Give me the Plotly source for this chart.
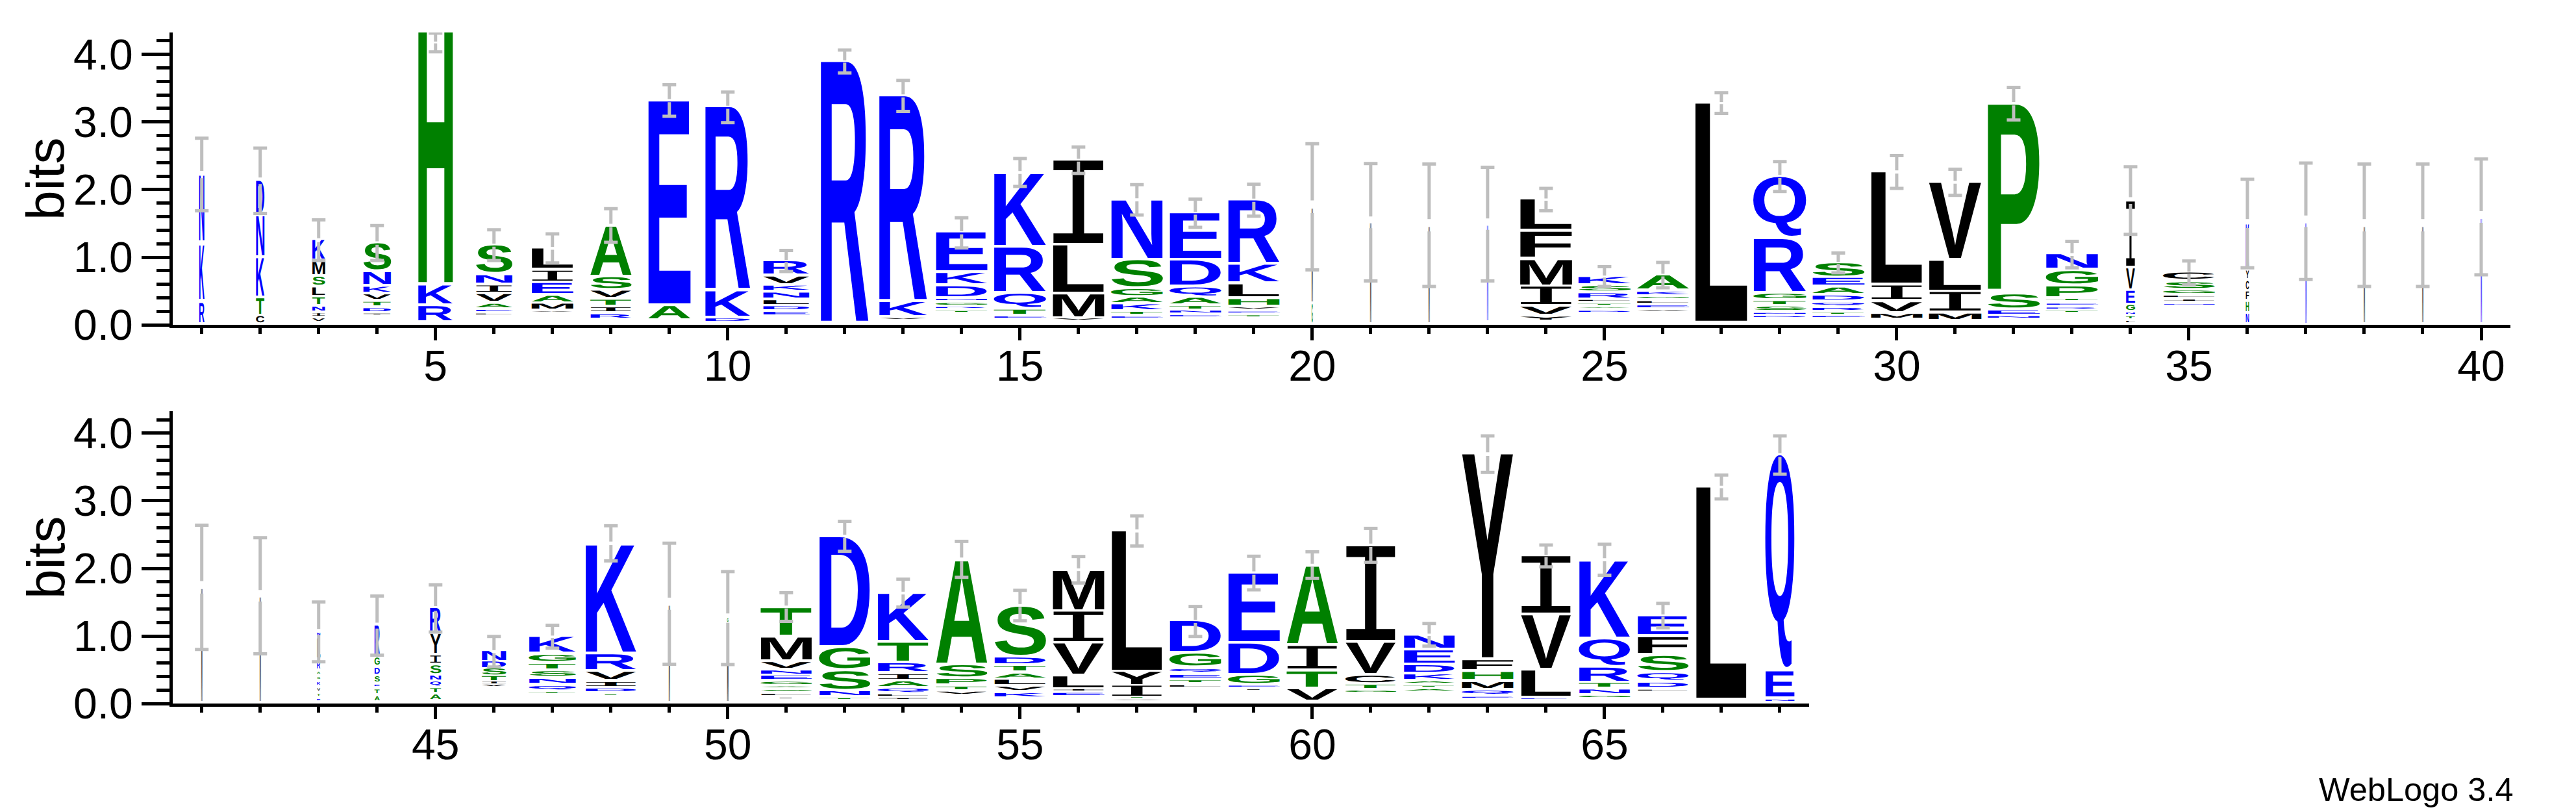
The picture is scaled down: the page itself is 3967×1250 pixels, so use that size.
import plotly.graph_objects as go

# ---- Row 1 (positions 1-40) -------------------------------------------------
letters_1 = ["NKR","DNKTC","KMSLTNIV","SNKVTDI","HKR","SNIVAEL","LIEAMV","ASVTIR","EA","RKD",
             "RVKNLDE","R","RKV","EKDNGRT","KRQTE","ILMV","NSGAKTE","EDQATNE","RKLHVET","MG",
             "M","M","N","LFMIVY","KSRLTAD","AKGLEV","L","QRGTSND","SEADQRTE","LIVM",
             "VLIM","PSEN","NGPTERT","IVEGNTL","CSGLIN","KYCFHN","N","M","M","N"]
heights_1 = [[.972,.8,.283],[.477,.587,.561,.231,.092],[.279,.191,.117,.11,.099,.055,.037,.037],
             [.385,.176,.073,.066,.051,.044,.011],[3.993,.268,.209],[.393,.11,.092,.099,.051,.018,.011],
             [.283,.147,.147,.084,.073,.007],[.723,.158,.092,.073,.055,.048],[2.991,.183],[2.675,.367,.037],
             [.183,.099,.062,.073,.055,.044,.037],[3.835],[3.002,.194,.015],[.561,.154,.147,.018,.026,.011,.011],
             [1.064,.642,.194,.062,.018],[1.218,.686,.33,.018],[.862,.385,.088,.066,.073,.029,.018],
             [.661,.356,.117,.084,.037,.026,.018],[.91,.25,.176,.084,.018,.011,.015],[1.395,.275],
             [1.486],[1.431],[1.42],[.433,.374,.367,.257,.103,.044],[.092,.066,.062,.011,.011,.007,.015],
             [.194,.037,.018,.022,.026,.011],[3.218],[.873,.771,.066,.044,.048,.011,.011],
             [.183,.099,.081,.055,.037,.029,.015,.011],[1.633,.198,.132,.055],[1.112,.429,.275,.081],
             [2.767,.194,.048,.022],[.202,.183,.147,.018,.015,.015,.011],[.951,.297,.176,.073,.018,.029,.018],
             [.092,.084,.037,.018,.018,.007],[.65,.11,.121,.11,.139,.128],[1.494],[1.431],[1.431],[1.552]]
base_1 = [.037,.044,.062,.154,.073,.154,.195,.11,.099,.062,.154,.062,.092,.198,.11,.081,.11,.128,.128,.037,
          .037,.037,.066,.084,.198,.202,.062,.117,.117,.11,.092,.106,.191,.044,.305,.037,.037,.037,.037,.037]
top_1 = [2.22,2.128,1.259,1.211,4.627,1.174,1.127,1.468,3.31,3.226,.943,3.897,3.387,1.369,2.246,2.43,1.853,
         1.651,1.846,1.743,1.523,1.468,1.486,1.853,.708,.734,3.281,2.184,.917,2.257,2.103,3.262,1.046,1.828,
         .771,1.494,1.53,1.468,1.468,1.589]
err_hi_1 = [2.76,2.613,1.552,1.468,4.312,1.406,1.347,1.718,3.549,3.442,1.101,4.062,3.615,1.585,2.459,2.631,
            2.073,1.861,2.081,2.679,2.385,2.378,2.33,2.018,.862,.925,3.431,2.415,1.064,2.503,2.301,3.512,
            1.237,2.338,.947,2.154,2.393,2.378,2.378,2.452]
err_lo_1 = [1.688,1.648,.954,.954,4.037,.954,.918,1.222,3.083,2.991,.789,3.725,3.156,1.138,2.048,2.239,1.626,
            1.442,1.607,.815,.65,.569,.65,1.688,.569,.55,3.127,1.974,.771,2.018,1.916,3.028,.844,1.34,.595,
            .844,.672,.569,.569,.741]
width_1 = [.09,.144,.22,.48,.6,.63,.72,.71,.73,.78,.8,.83,.83,.89,.9,.89,.89,.89,.89,.02,
           .02,.02,.02,.9,.91,.9,.91,.91,.9,.89,.91,.9,.9,.155,.89,.055,.02,.02,.02,.02]

# ---- Row 2 (positions 41-68) ------------------------------------------------
letters_2 = ["M","M","NLRASKVTE","RGDSETA","RYISNQTA","NDSTIV","KGTSNQT","KRVIDT","M","GM",
             "TMVNEGASLI","DGSNT","KTRIAQLI","ASPTV","SDTALVK","MIVLIE","LYITV","DGQETL","EDGEI","AITV",
             "IVCTG","NEDKATA","YFHMQE","IVLE","KQRTNG","EFSQDL","L","QEN"]
heights_2 = [[1.683],[1.556],[.039,.281,.108,.027,.027,.039,.035,.027,.019],[.424,.104,.085,.077,.019,.054,.058],
             [.347,.281,.104,.116,.058,.058,.054,.065],[.135,.085,.089,.062,.027,.019],
             [.22,.089,.069,.065,.058,.05,.012],[1.595,.22,.104,.058,.039,.008],[1.433],[.05,1.171],
             [.397,.327,.085,.046,.046,.035,.012,.019,.015,.008],[1.599,.297,.262,.058,.012],
             [.693,.27,.116,.069,.069,.05,.019,.012],[1.522,.166,.065,.039,.031],
             [.713,.085,.069,.058,.062,.046,.05],[.578,.439,.447,.162,.019,.031],[2.053,.181,.15,.008,.008],
             [.443,.173,.039,.039,.027,.019],[1.002,.435,.104,.015,.008],[1.148,.331,.227,.154],
             [1.387,.447,.096,.046,.019],[.181,.181,.096,.065,.019,.012,.019],[3.008,.135,.104,.089,.046,.012],
             [.836,.778,.374,.008],[1.129,.381,.196,.054,.054,.019],[.262,.235,.208,.096,.058,.012],[3.116],
             [3.147,.37,.019]]
base_2 = [.042,.042,.05,.05,.069,.262,.154,.131,.042,.042,.081,.069,.065,.143,.108,.127,.05,.25,.208,.058,
          .173,.196,.089,.073,.1,.193,.089,.042]
top_2 = [1.726,1.599,1.052,1.156,1.418,.782,.994,2.369,1.475,1.263,1.418,2.465,1.637,2.13,1.437,1.976,2.554,
         1.225,1.93,2.045,2.33,1.013,3.694,2.184,2.122,1.294,3.205,3.679]
err_hi_2 = [2.639,2.454,1.502,1.591,1.757,.994,1.159,2.631,2.373,1.953,1.641,2.696,1.841,2.4,1.676,2.176,
            2.777,1.437,2.18,2.246,2.592,1.186,3.96,2.346,2.357,1.483,3.382,3.96]
err_lo_2 = [.801,.736,.62,.717,1.059,.543,.82,2.111,.582,.578,1.217,2.253,1.429,1.868,1.225,1.784,2.331,.994,
            1.683,1.853,2.092,.851,3.42,2.022,1.899,1.121,3.028,3.394]
width_2 = [.02,.02,.055,.09,.19,.42,.81,.88,.02,.025,.88,.88,.88,.88,.89,.89,.88,.89,.89,.88,
           .87,.88,.89,.87,.88,.88,.88,.5]

colors = {"blue": "KRDENQ", "green": "HSTAGP", "black": "LIVMFYCW"}
color_hex = {"blue": "#0000ff", "green": "#008000", "black": "#000000"}
cap_half = 0.117


def letter_color(ch):
    for name, group in colors.items():
        if ch in group:
            return color_hex[name]
    return "#000000"


def letter_trace(first, letters, heights, base, top, widths, xa, ya):
    xs, ys, txt, cols, fams, wts, cd = [], [], [], [], [], [], []
    for i, word in enumerate(letters):
        hs = heights[i]
        gap = (top[i] - base[i] - sum(hs)) / (len(hs) - 1) if len(hs) > 1 else 0
        y = top[i]
        for ch, h in zip(word, hs):
            xs.append(first + i)
            ys.append(y - h / 2)
            txt.append(ch)
            cols.append(letter_color(ch))
            fams.append("Liberation Mono" if ch == "I" else "Liberation Sans")
            wts.append("normal" if ch == "I" else "bold")
            cd.append([widths[i], h, "xaxis" if xa == "x" else "xaxis2", "yaxis" if ya == "y" else "yaxis2"])
            y -= h + gap
    return go.Scatter(x=xs, y=ys, text=txt, mode="text", customdata=cd, xaxis=xa, yaxis=ya,
                      textposition="middle center", cliponaxis=True, hoverinfo="skip", showlegend=False,
                      textfont=dict(size=100, color=cols, family=fams, weight=wts))


def err_trace(first, top, hi, lo, xa, ya):
    xs, ys = [], []
    for i in range(len(hi)):
        p = first + i
        c = (hi[i] + lo[i]) / 2
        g = (hi[i] - lo[i]) * 0.05
        xs += [p, p, None, p, p, None, p - cap_half, p + cap_half, None, p - cap_half, p + cap_half, None]
        ys += [hi[i], c + g, None, c - g, lo[i], None, hi[i], hi[i], None, lo[i], lo[i], None]
    return go.Scatter(x=xs, y=ys, mode="lines", line=dict(color="#bebebe", width=5), xaxis=xa, yaxis=ya,
                      cliponaxis=False, hoverinfo="skip", showlegend=False, connectgaps=False)


fig = go.Figure([
    letter_trace(1, letters_1, heights_1, base_1, top_1, width_1, "x", "y"),
    err_trace(1, top_1, err_hi_1, err_lo_1, "x", "y"),
    letter_trace(41, letters_2, heights_2, base_2, top_2, width_2, "x2", "y2"),
    err_trace(41, top_2, err_hi_2, err_lo_2, "x2", "y2"),
])

W, H = 3967, 1250
font = "Liberation Sans"


def xax(rng, dom, anchor):
    return dict(range=rng, domain=dom, anchor=anchor, showgrid=False, zeroline=False, showline=True,
                linecolor="black", linewidth=4.6, ticks="outside", tick0=0, dtick=5, ticklen=19, tickwidth=4.6,
                tickcolor="black", tickfont=dict(family=font, size=66, color="black"), ticklabelstandoff=-17,
                minor=dict(ticks="outside", tick0=0, dtick=1, ticklen=9, tickwidth=4.6, tickcolor="black"))


def yax(dom, anchor):
    return dict(range=[0, 4.322], domain=dom, anchor=anchor, showgrid=False, zeroline=False, showline=True,
                linecolor="black", linewidth=4.6, ticks="outside", tick0=0, dtick=1, ticklen=43, tickwidth=4.6,
                tickcolor="black", tickformat=".1f", tickfont=dict(family=font, size=66, color="black"),
                minor=dict(ticks="outside", tick0=0, dtick=0.2, ticklen=20, tickwidth=4.6, tickcolor="black"))


def bits_label(y_px):
    return dict(text="bits", x=70 / W, y=(H - y_px) / H, xref="paper", yref="paper", textangle=-90,
                xanchor="center", yanchor="middle", showarrow=False,
                font=dict(family=font, size=82, color="black"))


fig.update_layout(
    width=W, height=H, template="none", paper_bgcolor="white", plot_bgcolor="white", showlegend=False,
    hovermode=False, margin=dict(l=0, r=0, t=0, b=0, autoexpand=False),
    xaxis=xax([0.5, 40.5], [265.7 / W, 3866 / W], "y"),
    yaxis=yax([(H - 500.3) / H, (H - 50) / H], "x"),
    xaxis2=xax([40.5, 68.5], [265.7 / W, 2786 / W], "y2"),
    yaxis2=yax([(H - 1083.2) / H, (H - 633.3) / H], "x2"),
    annotations=[bits_label(275), bits_label(858),
                 dict(text="WebLogo 3.4", x=3873 / W, y=(H - 1215) / H, xref="paper", yref="paper",
                      xanchor="right", yanchor="middle", showarrow=False,
                      font=dict(family=font, size=50.5, color="black"))],
)

post = """
document.body.style.margin='0';
var gd=document.getElementById('{plot_id}');
var ctx=document.createElement('canvas').getContext('2d');
gd.querySelectorAll('.scatterlayer .textpoint').forEach(function(g){
  var d=g.__data__; if(!d||!d.data) return;
  var t=g.querySelector('text'); if(!t) return;
  var ch=t.textContent;
  ctx.font=(ch==='I'?'normal 100px "Liberation Mono"':'bold 100px "Liberation Sans"');
  var m=ctx.measureText(ch);
  var L=m.actualBoundingBoxLeft,R=m.actualBoundingBoxRight,A=m.actualBoundingBoxAscent,D=m.actualBoundingBoxDescent;
  var xa=gd._fullLayout[d.data[2]],ya=gd._fullLayout[d.data[3]];
  var w=d.data[0],h=d.data[1];
  var x0=xa.l2p(d.x-w/2),x1=xa.l2p(d.x+w/2),yb=ya.l2p(d.y-h/2),yt=ya.l2p(d.y+h/2);
  var sx=(x1-x0)/(L+R),sy=(yb-yt)/(A+D);
  g.removeAttribute('transform');
  t.removeAttribute('x');t.removeAttribute('y');
  t.setAttribute('text-anchor','start');t.style.textAnchor='start';
  t.style.textRendering='geometricPrecision';
  t.setAttribute('transform','translate('+(x0+L*sx)+','+(yb-D*sy)+') scale('+sx+','+sy+')');
});
"""

fig.write_html("out.html", post_script=post, config={"displayModeBar": False, "responsive": False})
